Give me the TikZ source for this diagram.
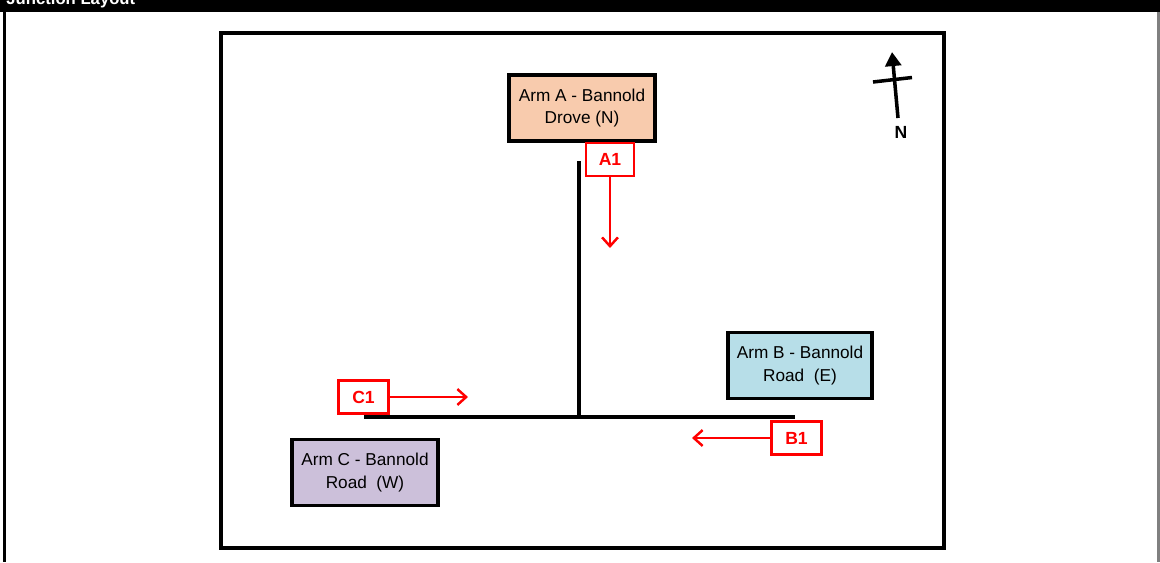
\documentclass[tikz,border=0pt]{standalone}
\usepackage{fontspec}
\setmainfont{Liberation Sans}
\usetikzlibrary{arrows.meta}
\definecolor{Peach}{HTML}{F8CBAD}
\definecolor{BlueLight}{HTML}{B7DEE8}
\definecolor{Lilac}{HTML}{CCC0DA}
\definecolor{RedLine}{HTML}{FF0000}
\definecolor{EdgeGray}{HTML}{808080}
\tikzset{
  armbox/.style={draw=black,line width=2pt,minimum width=2.92cm,minimum height=1.32cm,
    align=center,font=\fontsize{9.8}{12.6}\selectfont,inner sep=1pt},
  movebox/.style={draw=RedLine,line width=1.5pt,minimum width=1.0cm,minimum height=0.66cm,
    text=RedLine,font=\fontsize{10}{11}\selectfont\bfseries,inner sep=0pt},
  movearrow/.style={RedLine,line width=1.4pt,-{Straight Barb[length=5pt,width=9pt,line width=1.4pt]}},
  road/.style={line width=2.2pt,black},
}
\begin{document}
\begin{tikzpicture}[x=0.02cm,y=-0.02cm]
      \useasboundingbox(0,0)rectangle(1160,562);
      \clip(0,0)rectangle(1160,562);
      % title bar and sheet edges
      \fill[black](0,0)rectangle(1160,12);
      \node[anchor=base west,inner sep=0pt,text=white,font=\fontsize{9.5}{10}\selectfont\bfseries](title)at(6,4.5){Junction Layout};
      \draw[line width=1.4pt,black](4.5,12)--(4.5,562);
      \draw[line width=1.2pt,EdgeGray](1158.5,12)--(1158.5,562);
      % plan frame
      \draw[line width=2pt](221,33)rectangle(944,548);
      % roads
      \coordinate(north)at(579,161);
      \coordinate(jn)at(579,417);
      \coordinate(west)at(364,417);
      \coordinate(east)at(795,417);
      \draw[road](north)--(jn);
      \draw[road](west)--(east);
      % arms
      \node[armbox,fill=Peach](armA)at(582,108){Arm A - Bannold\\Drove (N)};
      \node[armbox,fill=BlueLight,minimum width=2.88cm](armB)at(800,365.5){Arm B - Bannold\\Road\ \ (E)};
      \node[armbox,fill=Lilac](armC)at(365,472.5){Arm C - Bannold\\Road\ \ (W)};
      % movements
      \node[movebox,minimum width=0.96cm](A1)at(610,159.5){A1};
      \node[movebox](B1)at(796.5,438){B1};
      \node[movebox](C1)at(363.5,397){C1};
      \coordinate(A1end)at(610,248);
      \coordinate(B1end)at(692,438);
      \coordinate(C1end)at(468,397);
      \draw[movearrow](A1.south)--(A1end);
      \draw[movearrow](B1.west)--(B1end);
      \draw[movearrow](C1.east)--(C1end);
      % north point
      \coordinate(nfoot)at(898,118);
      \coordinate(ntip)at(892,52);
      \draw[line width=2pt,-{Triangle[length=8pt,width=9pt]}](nfoot)--(ntip);
      \draw[line width=2pt](873,82)--(912,77.5);
      \node[font=\fontsize{10}{11}\selectfont\bfseries](nlabel)at(901,132){N};
    \end{tikzpicture}
\end{document}
